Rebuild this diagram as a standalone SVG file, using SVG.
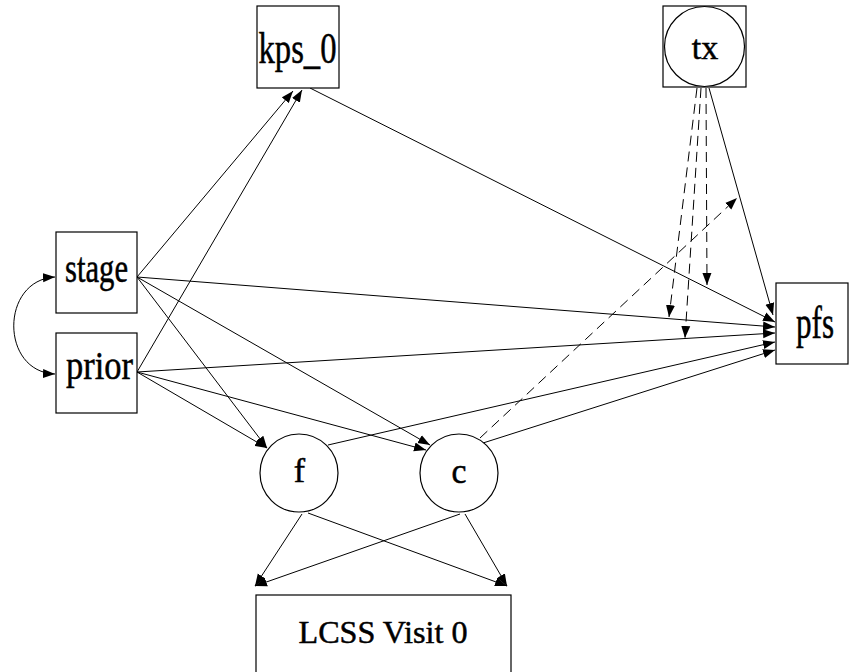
<svg xmlns="http://www.w3.org/2000/svg" width="849" height="672" viewBox="0 0 849 672">
<style>
.n{fill:#fff;stroke:#000;stroke-width:1.2}
.t{font-family:'Liberation Serif','Times New Roman','DejaVu Serif',serif;text-anchor:middle;fill:#000;stroke:#000;stroke-width:0.5}
.e{stroke:#000;stroke-width:1;fill:none;marker-end:url(#a)}
.d{stroke-dasharray:10,6}
</style>
<defs>
<marker id="a" markerUnits="userSpaceOnUse" markerWidth="13" markerHeight="10" refX="12" refY="4.5" orient="auto-start-reverse" viewBox="0 0 13 9">
<path d="M0,0 L12,4.5 L0,9 Z" fill="#000"/>
</marker>
</defs>
<rect width="849" height="672" fill="#fff"/>
<g id="connectors">
<path class="e" d="M137,277 L293,91"/>
<path class="e" d="M137,372 L302,90"/>
<path class="e" d="M310,88 L775,322"/>
<path class="e" d="M137,277 L775,327"/>
<path class="e" d="M137,372 L775,333"/>
<path class="e" d="M137,277 L267,448"/>
<path class="e" d="M137,372 L267,448"/>
<path class="e" d="M137,277 L430,445"/>
<path class="e" d="M137,372 L426,450"/>
<path class="e" d="M328,445 L775,342"/>
<path class="e" d="M483,443 L775,350"/>
<path class="e" d="M709,88 L773,315"/>
<path class="e" d="M302,514 L255,586"/>
<path class="e" d="M308,513 L507,586"/>
<path class="e" d="M460,514 L255,586"/>
<path class="e" d="M465,514 L507,586"/>
<path class="e d" d="M697,88 L669,317"/>
<path class="e d" d="M701,88 L685,338"/>
<path class="e d" d="M706,88 L707,285"/>
<path class="e d" d="M480,438 L737,198"/>
<path class="e" style="marker-start:url(#a)" d="M55,277 C0,280 0,372 55,374"/>
</g>
<g id="kps_0"><rect class="n" x="257" y="6" width="82" height="82"/><text class="t" x="297.5" y="63" font-size="44" textLength="78" lengthAdjust="spacingAndGlyphs">kps_0</text></g>
<g id="tx"><rect class="n" x="663" y="6" width="83" height="81"/><circle class="n" cx="704.5" cy="46.5" r="40"/><text class="t" x="705" y="59" font-size="34">tx</text></g>
<g id="stage"><rect class="n" x="56" y="232" width="81" height="81"/><text class="t" x="96.5" y="282" font-size="42" textLength="63" lengthAdjust="spacingAndGlyphs">stage</text></g>
<g id="prior"><rect class="n" x="56" y="333" width="81" height="80"/><text class="t" x="99.5" y="379" font-size="41" textLength="67" lengthAdjust="spacingAndGlyphs">prior</text></g>
<g id="pfs"><rect class="n" x="776" y="283" width="72" height="81"/><text class="t" x="815" y="338" font-size="46" textLength="38" lengthAdjust="spacingAndGlyphs">pfs</text></g>
<g id="f"><circle class="n" cx="299" cy="473" r="39"/><text class="t" x="299.5" y="482" font-size="34">f</text></g>
<g id="c"><circle class="n" cx="459" cy="473" r="39"/><text class="t" x="459" y="483" font-size="36" textLength="15" lengthAdjust="spacingAndGlyphs">c</text></g>
<g id="lcss"><rect class="n" x="256" y="595" width="255" height="90"/><text class="t" x="383" y="643" font-size="32" textLength="169" lengthAdjust="spacingAndGlyphs">LCSS Visit 0</text></g>
</svg>
